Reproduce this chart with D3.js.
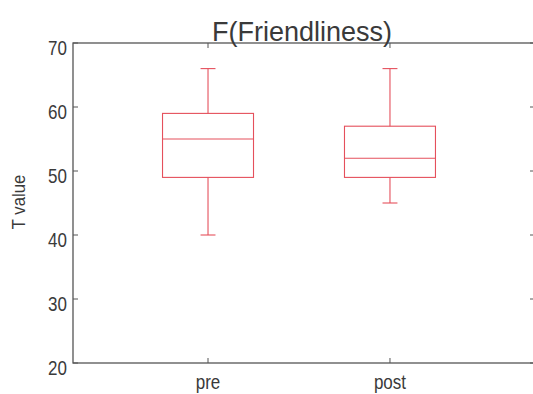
<!DOCTYPE html>
<html>
<head>
<meta charset="utf-8">
<script src="https://cdn.jsdelivr.net/npm/d3@7/dist/d3.min.js"></script>
<style>
  html, body { margin: 0; padding: 0; background: #fff; }
  svg { display: block; }
  text { font-family: "Liberation Sans", Arial, sans-serif; fill: #3a3a3a; }
</style>
</head>
<body>
<svg id="chart" width="533" height="394"></svg>
<script>
// Box plot statistics per group
const categories = ["pre", "post"];
const whiskerLow  = [40, 45];
const q1          = [49, 49];
const median      = [55, 52];
const q3          = [59, 57];
const whiskerHigh = [66, 66];
const yTicks = [20, 30, 40, 50, 60, 70];
const titleText = "F(Friendliness)";
const yLabelText = "T value";

const svg = d3.select("#chart");
const plotLeft = 73, plotRight = 535, plotTop = 43, plotBottom = 363;
const boxColor = "#e5505c";
const axisColor = "#555";

const x = d3.scaleLinear().domain([0.258, 2.797]).range([plotLeft, plotRight]);
const y = d3.scaleLinear().domain([20, 70]).range([plotBottom, plotTop]);

// Box outline (all four sides)
svg.append("rect")
  .attr("x", plotLeft).attr("y", plotTop)
  .attr("width", plotRight - plotLeft).attr("height", plotBottom - plotTop)
  .attr("fill", "none").attr("stroke", axisColor).attr("stroke-width", 1.3);

const tickLen = 5;
const g = svg.append("g").attr("stroke", axisColor).attr("stroke-width", 1);
// y ticks on both sides, pointing inward
yTicks.forEach(t => {
  g.append("line").attr("x1", plotLeft).attr("x2", plotLeft + tickLen).attr("y1", y(t)).attr("y2", y(t));
  g.append("line").attr("x1", plotRight - tickLen).attr("x2", plotRight).attr("y1", y(t)).attr("y2", y(t));
});
// x ticks on top and bottom, pointing inward
categories.forEach((c, i) => {
  const cx = x(i + 1);
  g.append("line").attr("x1", cx).attr("x2", cx).attr("y1", plotBottom).attr("y2", plotBottom - tickLen);
  g.append("line").attr("x1", cx).attr("x2", cx).attr("y1", plotTop).attr("y2", plotTop + tickLen);
});

// y tick labels
svg.append("g").selectAll("text").data(yTicks).join("text")
  .attr("transform", d => `translate(${plotLeft - 6},${y(d) + 12}) scale(0.85,1)`)
  .attr("text-anchor", "end")
  .attr("font-size", 20)
  .text(d => d);

// x tick labels
svg.append("g").selectAll("text").data(categories).join("text")
  .attr("transform", (d, i) => `translate(${x(i + 1)},${plotBottom + 26}) scale(0.85,1)`)
  .attr("text-anchor", "middle")
  .attr("font-size", 20)
  .text(d => d);

// y axis label
svg.append("text")
  .attr("transform", `translate(25,${(plotTop + plotBottom) / 2 - 1}) rotate(-90) scale(0.88,1)`)
  .attr("text-anchor", "middle")
  .attr("font-size", 19)
  .text(yLabelText);

// title
svg.append("text")
  .attr("x", (plotLeft + plotRight) / 2 - 2).attr("y", 41)
  .attr("text-anchor", "middle")
  .attr("font-size", 27)
  .attr("fill", "#222")
  .text(titleText);

// boxes
const boxW = 0.5, capW = 0.082;
const bg = svg.append("g").attr("stroke", boxColor).attr("stroke-width", 1.1).attr("fill", "none");
categories.forEach((c, i) => {
  const p = i + 1;
  const cx = x(p);
  bg.append("rect")
    .attr("x", x(p - boxW / 2)).attr("y", y(q3[i]))
    .attr("width", x(p + boxW / 2) - x(p - boxW / 2))
    .attr("height", y(q1[i]) - y(q3[i]));
  bg.append("line").attr("x1", x(p - boxW / 2)).attr("x2", x(p + boxW / 2))
    .attr("y1", y(median[i])).attr("y2", y(median[i]));
  bg.append("line").attr("x1", cx).attr("x2", cx).attr("y1", y(q3[i])).attr("y2", y(whiskerHigh[i]));
  bg.append("line").attr("x1", cx).attr("x2", cx).attr("y1", y(q1[i])).attr("y2", y(whiskerLow[i]));
  bg.append("line").attr("x1", x(p - capW / 2)).attr("x2", x(p + capW / 2))
    .attr("y1", y(whiskerHigh[i])).attr("y2", y(whiskerHigh[i]));
  bg.append("line").attr("x1", x(p - capW / 2)).attr("x2", x(p + capW / 2))
    .attr("y1", y(whiskerLow[i])).attr("y2", y(whiskerLow[i]));
});
</script>
</body>
</html>
